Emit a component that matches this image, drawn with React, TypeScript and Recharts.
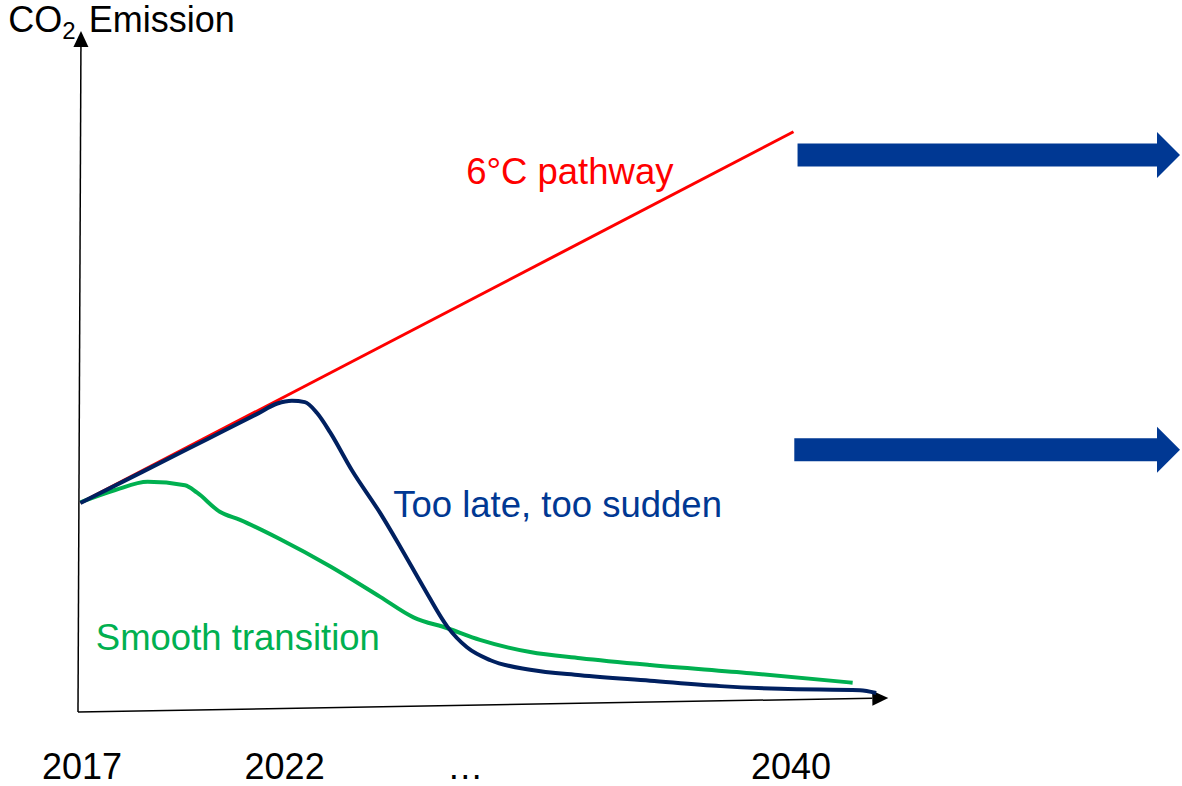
import React from "react"
import { LineChart, Line, XAxis, YAxis, ReferenceLine, ReferenceDot } from "recharts"

// x runs along an unscaled time axis (0 = 2017), y is the relative emission level
const pathway6C = [
	{ x: 0.3, y: 30.7 },
	{ x: 88.3, y: 85.2 },
]

const tooLateTooSudden = [
	{ x: 0.3, y: 30.7 },
	{ x: 8.0, y: 35.3 },
	{ x: 16.0, y: 40.1 },
	{ x: 22.0, y: 43.7 },
	{ x: 24.6, y: 45.3 },
	{ x: 26.4, y: 45.7 },
	{ x: 28.0, y: 45.5 },
	{ x: 29.5, y: 43.9 },
	{ x: 31.1, y: 41.1 },
	{ x: 33.8, y: 35.5 },
	{ x: 37.3, y: 29.2 },
	{ x: 39.8, y: 24.2 },
	{ x: 42.6, y: 18.4 },
	{ x: 45.6, y: 12.5 },
	{ x: 48.0, y: 9.5 },
	{ x: 50.9, y: 7.6 },
	{ x: 55.8, y: 6.2 },
	{ x: 62.0, y: 5.4 },
	{ x: 70.6, y: 4.6 },
	{ x: 79.3, y: 3.8 },
	{ x: 86.7, y: 3.4 },
	{ x: 96.5, y: 3.2 },
	{ x: 98.5, y: 2.8 },
]

const smoothTransition = [
	{ x: 0.3, y: 30.8 },
	{ x: 4.6, y: 32.6 },
	{ x: 8.6, y: 33.8 },
	{ x: 13.2, y: 33.3 },
	{ x: 14.7, y: 32.2 },
	{ x: 17.5, y: 29.4 },
	{ x: 20.0, y: 28.2 },
	{ x: 24.9, y: 25.4 },
	{ x: 31.1, y: 21.4 },
	{ x: 37.3, y: 16.9 },
	{ x: 41.4, y: 13.9 },
	{ x: 45.6, y: 12.3 },
	{ x: 49.6, y: 10.6 },
	{ x: 55.8, y: 8.8 },
	{ x: 62.0, y: 7.9 },
	{ x: 70.6, y: 6.9 },
	{ x: 83.0, y: 5.7 },
	{ x: 95.6, y: 4.3 },
]

const yearTicks = [0.5, 25.5, 47.8, 88.0]
const yearLabels = ["2017", "2022", "…", "2040"]

// block arrows on the right: [start x, end x, level]
const trendArrows = [
	[88.8, 136, 81.8],
	[88.4, 136, 38.5],
]

const FONT = "'Liberation Sans', Arial, Helvetica, sans-serif"
const RED = "#FF0000"
const NAVY = "#002060"
const BLUE = "#003893"
const GREEN = "#00B050"

// thin axis line with a filled triangular head at its end
const axisArrow = (props: any) => {
	const { x1, y1, x2, y2 } = props
	const a = Math.atan2(y2 - y1, x2 - x1)
	const len = 16
	const half = 7.5
	const bx = x2 - len * Math.cos(a)
	const by = y2 - len * Math.sin(a)
	const px = -Math.sin(a) * half
	const py = Math.cos(a) * half
	return (
		<g>
			<line x1={x1} y1={y1} x2={bx} y2={by} stroke="#000" strokeWidth={1.5} />
			<polygon points={`${x2},${y2} ${bx + px},${by + py} ${bx - px},${by - py}`} fill="#000" />
		</g>
	)
}

// fat horizontal arrow (body + head)
const blockArrow = (props: any) => {
	const { x1, y1, x2 } = props
	const body = 23
	const head = 46
	const headLen = 23
	const xb = x2 - headLen
	const pts = [
		[x1, y1 - body / 2],
		[xb, y1 - body / 2],
		[xb, y1 - head / 2],
		[x2, y1],
		[xb, y1 + head / 2],
		[xb, y1 + body / 2],
		[x1, y1 + body / 2],
	]
	return <polygon points={pts.map((p) => p.join(",")).join(" ")} fill={BLUE} />
}

const textAt = (value: string, color: string) => (props: any) => {
	const { x, y } = props.viewBox
	return (
		<text x={x} y={y} fill={color} fontSize={36.5} fontFamily={FONT}>
			{value}
		</text>
	)
}

const co2Title = (props: any) => {
	const { x, y } = props.viewBox
	return (
		<text x={x} y={y} fill="#000" fontSize={36} fontFamily={FONT}>
			<tspan>CO</tspan>
			<tspan fontSize={24} dy={7}>
				2
			</tspan>
			<tspan dy={-7} dx={3}>
				{" Emission"}
			</tspan>
		</text>
	)
}

const YearTick = (props: any) => {
	const { x, y, payload } = props
	const i = yearTicks.indexOf(payload.value)
	return (
		<text x={x} y={y} dy={59} textAnchor="middle" fill="#000" fontSize={36} fontFamily={FONT}>
			{yearLabels[i] ?? ""}
		</text>
	)
}

const App = () => {
	return (
		<div style={{ position: "absolute", left: 0, top: 0, width: 1182, height: 786, background: "#fff" }}>
			<LineChart width={1182} height={786} margin={{ top: 31, right: 2, bottom: 44, left: 78 }}>
				<XAxis
					type="number"
					dataKey="x"
					domain={[0, 136]}
					allowDataOverflow
					ticks={yearTicks}
					interval={0}
					axisLine={false}
					tickLine={false}
					tick={<YearTick />}
					height={30}
				/>
				<YAxis type="number" dataKey="y" domain={[0, 100]} allowDataOverflow hide />

				{/* axes with arrow heads; the time axis rises slightly to the right */}
				<ReferenceLine
					segment={[
						{ x: 0, y: 0 },
						{ x: 100, y: 2.06 },
					]}
					ifOverflow="visible"
					shape={axisArrow}
				/>
				<ReferenceLine
					segment={[
						{ x: 0, y: 0 },
						{ x: 0.37, y: 100 },
					]}
					ifOverflow="visible"
					shape={axisArrow}
				/>

				{trendArrows.map(([from, to, level], i) => (
					<ReferenceLine
						key={i}
						segment={[
							{ x: from, y: level },
							{ x: to, y: level },
						]}
						ifOverflow="visible"
						shape={blockArrow}
					/>
				))}

				<Line
					data={pathway6C}
					dataKey="y"
					type="linear"
					stroke={RED}
					strokeWidth={3}
					dot={false}
					activeDot={false}
					isAnimationActive={false}
				/>
				<Line
					data={smoothTransition}
					dataKey="y"
					type="monotone"
					stroke={GREEN}
					strokeWidth={4}
					dot={false}
					activeDot={false}
					isAnimationActive={false}
				/>
				<Line
					data={tooLateTooSudden}
					dataKey="y"
					type="monotone"
					stroke={NAVY}
					strokeWidth={4}
					dot={false}
					activeDot={false}
					isAnimationActive={false}
				/>

				<ReferenceDot x={-8.6} y={99.9} r={0} fill="none" stroke="none" ifOverflow="visible" label={co2Title} />
				<ReferenceDot x={47.9} y={77.5} r={0} fill="none" stroke="none" ifOverflow="visible" label={textAt("6°C pathway", RED)} />
				<ReferenceDot
					x={38.9}
					y={28.6}
					r={0}
					fill="none"
					stroke="none"
					ifOverflow="visible"
					label={textAt("Too late, too sudden", BLUE)}
				/>
				<ReferenceDot
					x={2.2}
					y={9.1}
					r={0}
					fill="none"
					stroke="none"
					ifOverflow="visible"
					label={textAt("Smooth transition", GREEN)}
				/>
			</LineChart>
		</div>
	)
}

export default App
